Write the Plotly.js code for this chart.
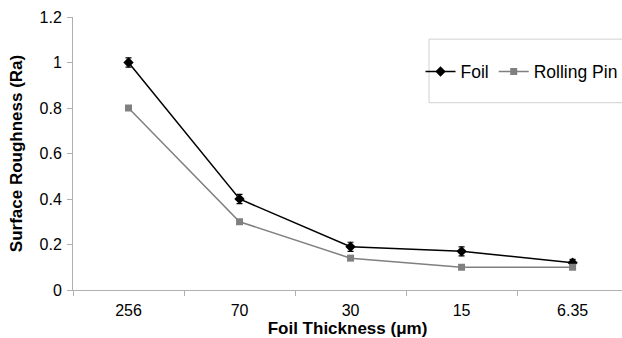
<!DOCTYPE html>
<html><head><meta charset="utf-8">
<script src="https://cdn.plot.ly/plotly-3.0.1.min.js"></script>
<style>html,body{margin:0;padding:0;background:#fff;overflow:hidden}#chart{width:622px;height:338px}</style>
</head><body><div id="chart"></div>
<script>
const categories = ["256", "70", "30", "15", "6.35"];
const foil = [1.0, 0.40, 0.19, 0.17, 0.12];
const foilErr = [0.02, 0.02, 0.02, 0.02, 0.015];
const rollingPin = [0.80, 0.30, 0.14, 0.10, 0.10];
const yTicks = [0, 0.2, 0.4, 0.6, 0.8, 1, 1.2];

const traces = [
  {x: categories, y: foil, name: "Foil", type: "scatter", mode: "lines+markers",
   line: {color: "#000", width: 1.5}, marker: {symbol: "diamond", size: 8, color: "#000"},
   error_y: {type: "data", array: foilErr, visible: true, color: "#000", thickness: 1.2, width: 3}},
  {x: categories, y: rollingPin, name: "Rolling Pin", type: "scatter", mode: "lines+markers",
   line: {color: "#808080", width: 1.5}, marker: {symbol: "square", size: 7, color: "#808080"}}
];

const layout = {
  width: 622, height: 338,
  margin: {l: 73, r: 0, t: 17, b: 48, autoexpand: false},
  paper_bgcolor: "#fff", plot_bgcolor: "#fff",
  font: {family: "Arial, 'Liberation Sans', sans-serif", color: "#000"},
  showlegend: true,
  legend: {x: 0.633, y: 0.80, xanchor: "left", yanchor: "middle", orientation: "h",
           borderwidth: 0, font: {size: 17.5}, bgcolor: "rgba(0,0,0,0)", itemwidth: 30},
  shapes: [{type: "rect", xref: "paper", yref: "paper", x0: 0.6485, x1: 1.05, y0: 0.686, y1: 0.919,
            line: {color: "#d0d0d0", width: 1}, fillcolor: "rgba(0,0,0,0)", layer: "below"}],
  xaxis: {type: "category", range: [-0.5, 4.445], showgrid: false, zeroline: false, automargin: false,
          showline: true, linecolor: "#b0b0b0", ticks: "outside", tickson: "boundaries",
          ticklen: 5, tickcolor: "#b0b0b0", tickfont: {size: 16}, ticklabelstandoff: 6,
          title: {text: "<b>Foil Thickness (μm)</b>", font: {size: 17}, standoff: 3}},
  yaxis: {range: [0, 1.2], tickvals: yTicks, ticktext: yTicks.map(String), showgrid: false, automargin: false,
          zeroline: false, showline: true, linecolor: "#b0b0b0", ticks: "outside", ticklen: 5,
          tickcolor: "#b0b0b0", tickfont: {size: 16}, ticklabelstandoff: 2,
          title: {text: "<b>Surface Roughness (Ra)</b>", font: {size: 17}, standoff: 12}}
};
Plotly.newPlot("chart", traces, layout, {displayModeBar: false, staticPlot: true});
</script></body></html>
